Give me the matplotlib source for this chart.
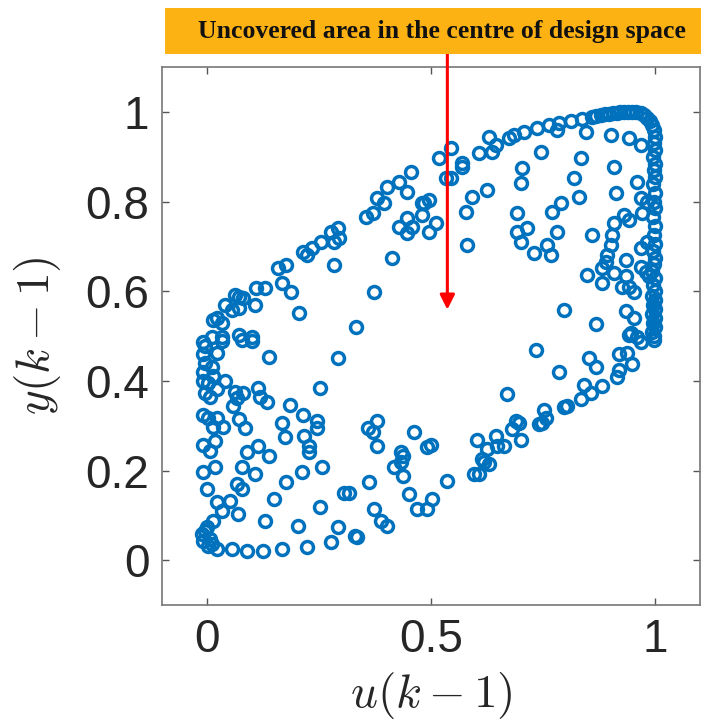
import numpy as np
import matplotlib.pyplot as plt
from matplotlib.patches import Rectangle

plt.rcParams['mathtext.fontset'] = 'cm'

# points, grouped by region: (u(k-1), y(k-1))
upper_band = [
    (-0.009, 0.486), (0.011, 0.497), (0.033, 0.497), (0.013, 0.537), (0.022, 0.541),
    (0.033, 0.530), (0.040, 0.570), (0.056, 0.559), (0.062, 0.592), (0.073, 0.588),
    (0.080, 0.586), (0.073, 0.563), (0.107, 0.570), (0.111, 0.608), (0.129, 0.608),
    (0.158, 0.653), (0.178, 0.659), (0.169, 0.619), (0.189, 0.599), (0.207, 0.552),
    (0.214, 0.688), (0.223, 0.682), (0.234, 0.697), (0.256, 0.710), (0.278, 0.733),
    (0.292, 0.742), (0.296, 0.719), (0.285, 0.710), (0.285, 0.659), (0.073, 0.503),
    (0.102, 0.497), (0.334, 0.521), (0.374, 0.599), (0.414, 0.675),
    (0.356, 0.766), (0.370, 0.775), (0.381, 0.808), (0.396, 0.797), (0.403, 0.833),
    (0.430, 0.844), (0.457, 0.866), (0.448, 0.822), (0.481, 0.797), (0.486, 0.797),
    (0.497, 0.804), (0.481, 0.771), (0.448, 0.764), (0.430, 0.744), (0.459, 0.744),
    (0.448, 0.731), (0.497, 0.733), (0.512, 0.753), (0.519, 0.898), (0.546, 0.920),
    (0.535, 0.853), (0.546, 0.853), (0.570, 0.886), (0.570, 0.878), (0.592, 0.811),
    (0.579, 0.777), (0.626, 0.826), (0.581, 0.704), (0.608, 0.909), (0.637, 0.911),
    (0.646, 0.927), (0.630, 0.944), (0.675, 0.942),
]

top_arc = [
    (0.686, 0.949), (0.708, 0.955), (0.737, 0.964), (0.764, 0.971), (0.786, 0.976),
    (0.813, 0.980), (0.837, 0.984), (0.860, 0.989), (0.869, 0.991), (0.880, 0.993),
    (0.889, 0.995), (0.898, 0.996), (0.906, 0.998), (0.915, 0.998), (0.922, 1.000),
    (0.931, 1.000), (0.940, 1.000), (0.949, 1.000), (0.958, 1.000), (0.969, 0.998),
    (0.976, 0.993), (0.982, 0.987), (0.989, 0.980), (0.993, 0.971),
]

right_edge = [
    (0.998, 0.960), (1.000, 0.945), (0.998, 0.930), (1.000, 0.915), (0.996, 0.900),
    (1.000, 0.885), (0.998, 0.870), (1.000, 0.855), (0.996, 0.840), (1.000, 0.820),
    (0.998, 0.800), (1.000, 0.785), (0.996, 0.765), (1.000, 0.745), (0.998, 0.725),
    (1.000, 0.705), (0.996, 0.690), (1.000, 0.675), (0.998, 0.660), (0.994, 0.645),
    (1.000, 0.630), (0.996, 0.615), (1.000, 0.600), (0.994, 0.590), (1.000, 0.580),
    (0.996, 0.570), (1.000, 0.560), (0.994, 0.550), (1.000, 0.540), (0.996, 0.530),
    (1.000, 0.520), (0.994, 0.510), (0.998, 0.500), (0.998, 0.492), (0.969, 0.486),
    (0.942, 0.503), (0.960, 0.497), (0.947, 0.508),
]

right_inner = [
    (0.782, 0.960), (0.846, 0.955), (0.902, 0.949), (0.942, 0.942), (0.969, 0.927),
    (0.746, 0.911), (0.835, 0.898), (0.704, 0.875), (0.702, 0.842), (0.820, 0.853),
    (0.909, 0.878), (0.960, 0.844), (0.831, 0.811), (0.913, 0.820), (0.969, 0.808),
    (0.982, 0.800), (0.791, 0.797), (0.771, 0.777), (0.693, 0.775), (0.971, 0.775),
    (0.931, 0.771), (0.942, 0.759), (0.909, 0.753), (0.715, 0.742), (0.782, 0.733),
    (0.693, 0.733), (0.702, 0.710), (0.860, 0.726), (0.904, 0.726), (0.902, 0.704),
    (0.759, 0.704), (0.731, 0.686), (0.768, 0.682), (0.893, 0.682), (0.969, 0.697),
    (0.982, 0.710), (0.891, 0.666), (0.935, 0.670), (0.969, 0.655), (0.882, 0.653),
    (0.849, 0.637), (0.909, 0.641), (0.980, 0.644), (0.882, 0.619), (0.935, 0.633),
    (0.927, 0.610), (0.942, 0.610), (0.953, 0.599), (0.987, 0.633), (0.797, 0.559),
    (0.935, 0.555), (0.953, 0.541), (0.869, 0.526),
]

lower_band = [
    (0.735, 0.470), (0.786, 0.421), (0.853, 0.452), (0.869, 0.432), (0.920, 0.459),
    (0.938, 0.463), (0.949, 0.437), (0.920, 0.425), (0.915, 0.408), (0.842, 0.392),
    (0.857, 0.374), (0.882, 0.388), (0.835, 0.359), (0.797, 0.341), (0.804, 0.343),
    (0.753, 0.336), (0.757, 0.318), (0.742, 0.303), (0.748, 0.307), (0.697, 0.307),
    (0.702, 0.269), (0.682, 0.292), (0.690, 0.310), (0.670, 0.370), (0.646, 0.276),
    (0.604, 0.269), (0.648, 0.254), (0.626, 0.247), (0.664, 0.254), (0.630, 0.214),
    (0.619, 0.220), (0.597, 0.192), (0.608, 0.192), (0.615, 0.225), (0.537, 0.176),
    (0.463, 0.287), (0.501, 0.258), (0.492, 0.252), (0.437, 0.232), (0.434, 0.241),
    (0.434, 0.218), (0.419, 0.207), (0.437, 0.187), (0.452, 0.147), (0.503, 0.136),
    (0.470, 0.114), (0.492, 0.114), (0.359, 0.296), (0.379, 0.310), (0.370, 0.285),
    (0.381, 0.254), (0.363, 0.174), (0.318, 0.151), (0.374, 0.114), (0.390, 0.087),
    (0.403, 0.076), (0.336, 0.051),
]

left_cluster = [
    (-0.004, 0.477), (0.033, 0.488), (0.078, 0.492), (0.102, 0.488), (0.140, 0.454),
    (0.292, 0.452), (-0.009, 0.459), (-0.004, 0.441), (-0.009, 0.421), (0.011, 0.430),
    (0.024, 0.463), (0.013, 0.410), (-0.009, 0.399), (0.002, 0.396), (-0.004, 0.374),
    (0.007, 0.365), (0.024, 0.381), (0.040, 0.399), (0.062, 0.376), (0.080, 0.374),
    (0.058, 0.343), (0.067, 0.363), (0.114, 0.385), (0.118, 0.365), (0.134, 0.352),
    (0.252, 0.385), (0.185, 0.347), (0.214, 0.325), (0.245, 0.310), (0.247, 0.296),
    (0.167, 0.307), (0.174, 0.274), (0.218, 0.276), (0.229, 0.254), (0.229, 0.241),
    (-0.009, 0.325), (0.002, 0.318), (0.022, 0.318), (0.013, 0.298), (0.036, 0.298),
    (0.073, 0.314), (0.085, 0.296), (-0.009, 0.258), (0.018, 0.265), (0.007, 0.243),
    (0.089, 0.241), (0.114, 0.254), (0.140, 0.232), (0.078, 0.209), (0.107, 0.192),
    (-0.009, 0.196), (0.018, 0.209), (0.000, 0.158), (0.067, 0.169), (0.078, 0.158),
    (0.212, 0.196), (0.178, 0.174), (0.258, 0.209), (0.024, 0.129), (0.051, 0.131),
    (0.033, 0.109), (0.069, 0.102), (0.151, 0.136), (0.307, 0.151), (0.252, 0.118),
    (0.129, 0.087), (0.203, 0.076), (0.292, 0.073), (0.330, 0.053),
]

bottom_hook = [
    (0.013, 0.087), (0.000, 0.073), (-0.004, 0.065), (-0.011, 0.058), (0.007, 0.047),
    (-0.009, 0.042), (0.011, 0.036), (0.002, 0.031), (0.024, 0.024), (0.056, 0.024),
    (0.089, 0.020), (0.125, 0.020), (0.169, 0.024), (0.223, 0.029), (0.278, 0.040),
]

xticks = [0, 0.5, 1]
xtick_labels = ['0', '0.5', '1']
yticks = [0, 0.2, 0.4, 0.6, 0.8, 1]
ytick_labels = ['0', '0.2', '0.4', '0.6', '0.8', '1']
banner_text = 'Uncovered area in the centre of design space'
arrow_tip = (0.537, 0.559)

pts = np.array(upper_band + top_arc + right_edge + right_inner
               + lower_band + left_cluster + bottom_hook)

fig = plt.figure(figsize=(7.01, 7.22), dpi=100)
ax = fig.add_axes([0.231, 0.162, 0.767, 0.745])

ax.plot(pts[:, 0], pts[:, 1], 'o', ls='none', mfc='none', mec='#0072BD',
        ms=8.6, mew=2.5, clip_on=False)

ax.set_xlim(-0.1, 1.1)
ax.set_ylim(-0.1, 1.1)
ax.set_xticks(xticks)
ax.set_xticklabels(xtick_labels)
ax.set_yticks(yticks)
ax.set_yticklabels(ytick_labels)
ax.tick_params(direction='in', length=5, width=1, color='#555555',
               top=True, right=True, labelsize=33, labelcolor='#262626', pad=9)
for lab in ax.get_xticklabels() + ax.get_yticklabels():
    lab.set_family('Liberation Sans')
for s in ax.spines.values():
    s.set_color('#777777')
    s.set_linewidth(1.2)

ax.set_xlabel(r'$u(k-1)$', fontsize=34, color='#262626', labelpad=6)
ax.set_ylabel(r'$y(k-1)$', fontsize=34, color='#262626', labelpad=16)

# orange banner with the note on top
fig.add_artist(Rectangle((0.2354, 0.925), 0.7646, 0.064, transform=fig.transFigure,
                         facecolor='#FDB214', edgecolor='none'))
fig.text(0.63, 0.957, banner_text, ha='center', va='center', fontsize=18.5,
         fontweight='bold', family='Liberation Serif', color='#111111')

ax.annotate('', xy=arrow_tip, xytext=(arrow_tip[0], 1.13),
            arrowprops=dict(arrowstyle='-|>', color='#FF0000', lw=2.2,
                            mutation_scale=22, shrinkA=0, shrinkB=0),
            annotation_clip=False)

fig.savefig('out.png', dpi=100)
